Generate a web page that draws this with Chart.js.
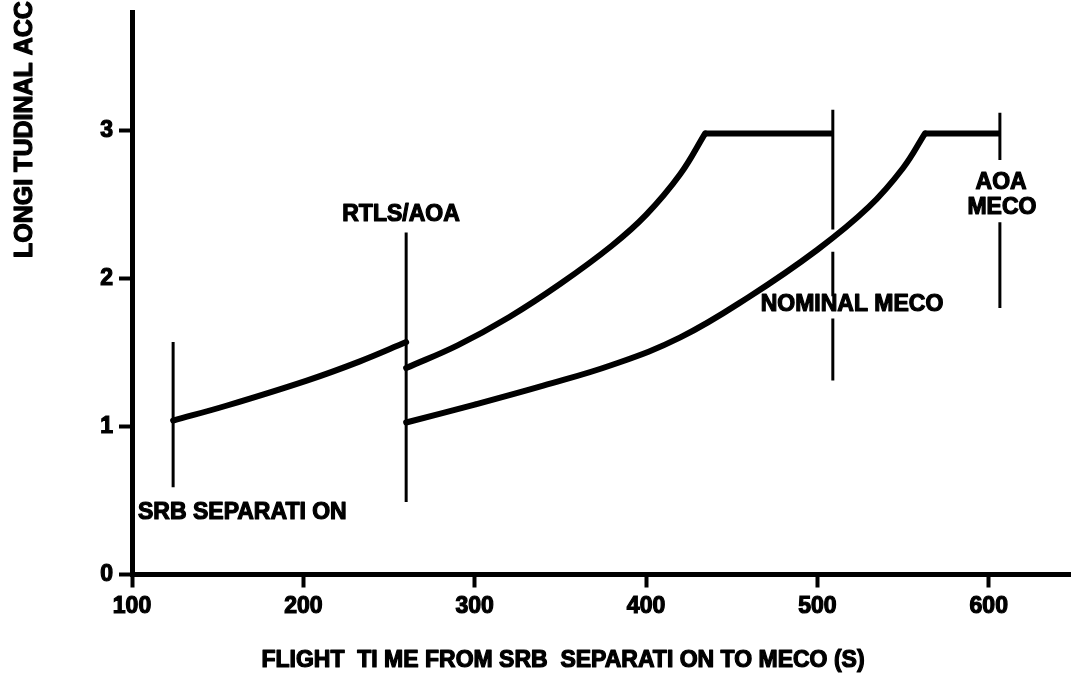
<!DOCTYPE html>
<html>
<head>
<meta charset="utf-8">
<title>Longitudinal acceleration vs flight time</title>
<script src="https://cdn.jsdelivr.net/npm/chart.js@4.4.1/dist/chart.umd.min.js"></script>
<style>
  html, body { margin: 0; padding: 0; background: #fff; }
  #wrap { width: 1071px; height: 678px; }
</style>
</head>
<body>
<div id="wrap"><canvas id="chart" width="1071" height="678"></canvas></div>
<script>
// Axis ticks
const xTicks = [100, 200, 300, 400, 500, 600];
const yTicks = [0, 1, 2, 3];

// Event times (s)
const srbSepTime = 124;
const rtlsTime = 260;
const nominalMecoTime = 509;
const aoaMecoTime = 606.5;

// 3 g throttle limit
const gLimit = 2.98;

// Common profile from SRB separation to the RTLS/AOA point (g)
const boostTime  = [124, 155, 202, 233, 260];
const boostAccel = [1.04, 1.14, 1.31, 1.44, 1.57];

// Nominal profile after the RTLS/AOA point, up to the 3 g limit
const nominalTime  = [260, 290, 320, 350, 380, 400, 420, 434.5];
const nominalAccel = [1.395, 1.548, 1.738, 1.964, 2.221, 2.429, 2.705, 2.98];

// Abort-once-around profile after the engine-out point, up to the 3 g limit
const aoaTime  = [260, 300, 340, 380, 420, 460, 500, 530, 550, 562.8];
const aoaAccel = [1.027, 1.148, 1.276, 1.415, 1.602, 1.875, 2.194, 2.483, 2.746, 2.98];

// Event marker extents in g (null = break in the marker line)
const srbMarkAccel  = [0.59, 1.57];
const rtlsMarkAccel = [0.49, 2.31];
const nominalMecoMarkAccel = [3.14, 2.33, null, 2.18, 1.88, null, 1.73, 1.31];
const aoaMecoMarkAccel     = [3.12, 2.80, null, 2.38, 1.80];

// Annotation text and anchors (data units)
const noteText  = ['SRB SEPARATI ON', 'RTLS/AOA', 'NOMINAL MECO', 'AOA', 'MECO'];
const noteTime  = [103.5, 257, 520.2, 607.2, 607.7];
const noteAccel = [0.42, 2.43, 1.82, 2.65, 2.48];
const noteAlign = ['left', 'center', 'center', 'center', 'center'];

const xTitle = 'FLIGHT  TI ME FROM SRB  SEPARATI ON TO MECO (S)';
const yTitle = 'LONGI TUDINAL ACC';

const INK = '#000';
const FONT = "'Liberation Sans', Arial, sans-serif";

function pts(xs, ys) { return xs.map((x, i) => ({ x: x, y: ys[i] })); }
function vline(t, ys) { return ys.map(y => ({ x: t, y: y })); }
function hline(t0, t1, g) { return [{ x: t0, y: g }, { x: t1, y: g }]; }

function curve(data) {
  return {
    data: data, borderColor: INK, borderWidth: 6, pointRadius: 0,
    tension: 0.4, borderJoinStyle: 'round', borderCapStyle: 'round', fill: false
  };
}
function plateau(data) {
  return {
    data: data, borderColor: INK, borderWidth: 6, pointRadius: 0,
    tension: 0, borderCapStyle: 'butt', fill: false
  };
}
function marker(data) {
  return {
    data: data, borderColor: INK, borderWidth: 3, pointRadius: 0, tension: 0,
    spanGaps: false, borderCapStyle: 'butt', fill: false
  };
}

function heavyText(ctx, t, x, y) {
  ctx.strokeText(t, x, y);
  ctx.fillText(t, x, y);
}

const textPlugin = {
  id: 'textPlugin',
  afterDraw(chart) {
    const ctx = chart.ctx;
    const xs = chart.scales.x, ys = chart.scales.y;
    ctx.save();
    ctx.fillStyle = INK;
    ctx.strokeStyle = INK;
    ctx.lineWidth = 1.2;
    ctx.lineJoin = 'round';
    ctx.font = 'bold 23px ' + FONT;
    ctx.textBaseline = 'middle';
    noteText.forEach((t, i) => {
      ctx.textAlign = noteAlign[i];
      heavyText(ctx, t, xs.getPixelForValue(noteTime[i]), ys.getPixelForValue(noteAccel[i]));
    });
    // x axis title
    ctx.textAlign = 'center';
    heavyText(ctx, xTitle, 563, 661);
    // y axis title, running up from its lower end
    ctx.font = 'bold 25px ' + FONT;
    ctx.translate(25, 258);
    ctx.rotate(-Math.PI / 2);
    ctx.textAlign = 'left';
    heavyText(ctx, yTitle, 0, 0);
    ctx.restore();
  }
};

const axisCommon = {
  type: 'linear',
  border: { display: true, color: INK, width: 5 },
  grid: { drawOnChartArea: false, drawTicks: true, tickLength: 13, tickWidth: 4, tickColor: INK },
  ticks: {
    color: INK, textStrokeColor: INK, textStrokeWidth: 1.2,
    font: { family: FONT, size: 23, weight: 'bold' }
  }
};

new Chart(document.getElementById('chart'), {
  type: 'line',
  data: {
    datasets: [
      curve(pts(boostTime, boostAccel)),
      curve(pts(nominalTime, nominalAccel)),
      plateau(hline(nominalTime[nominalTime.length - 1], nominalMecoTime, gLimit)),
      curve(pts(aoaTime, aoaAccel)),
      plateau(hline(aoaTime[aoaTime.length - 1], aoaMecoTime, gLimit)),
      marker(vline(srbSepTime, srbMarkAccel)),
      marker(vline(rtlsTime, rtlsMarkAccel)),
      marker(vline(nominalMecoTime, nominalMecoMarkAccel)),
      marker(vline(aoaMecoTime, aoaMecoMarkAccel))
    ]
  },
  options: {
    responsive: false,
    devicePixelRatio: 1,
    animation: false,
    events: [],
    layout: { padding: { top: 12, right: 0, bottom: 0, left: 0 } },
    plugins: { legend: { display: false }, tooltip: { enabled: false }, title: { display: false } },
    scales: {
      x: Object.assign({}, axisCommon, {
        min: 100, max: 648,
        ticks: Object.assign({}, axisCommon.ticks, { padding: 5, maxRotation: 0, autoSkip: false }),
        afterBuildTicks: s => { s.ticks = xTicks.map(v => ({ value: v })); },
        afterFit: s => { s.height = 103.5; s.paddingLeft = 0; s.paddingRight = 0; }
      }),
      y: Object.assign({}, axisCommon, {
        min: 0, max: 3.8,
        ticks: Object.assign({}, axisCommon.ticks, { padding: 6 }),
        afterBuildTicks: s => { s.ticks = yTicks.map(v => ({ value: v })); },
        afterFit: s => { s.width = 132; s.paddingTop = 0; s.paddingBottom = 0; }
      })
    }
  },
  plugins: [textPlugin]
});
</script>
</body>
</html>
